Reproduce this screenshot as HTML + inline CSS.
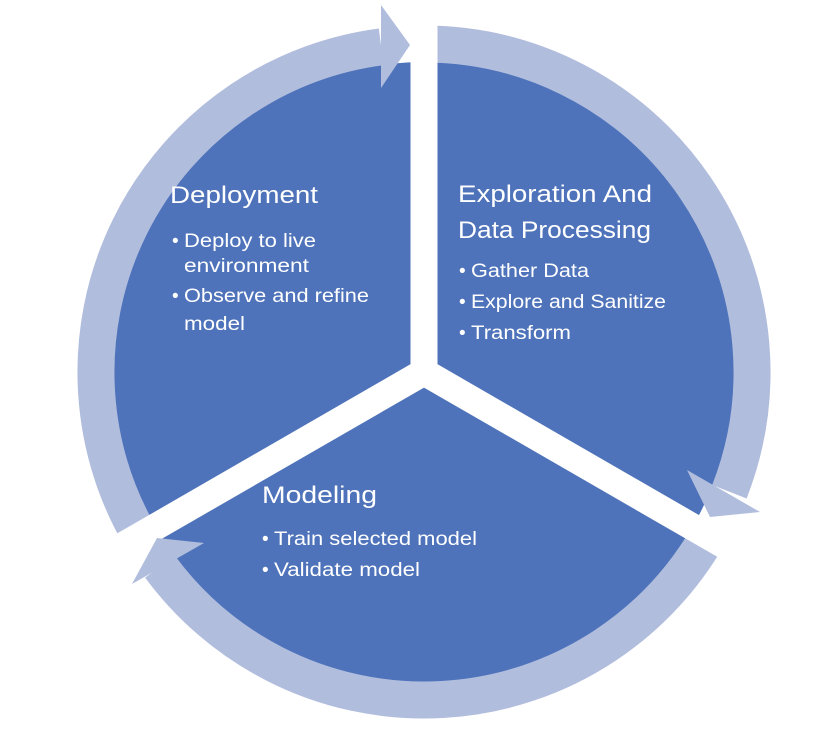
<!DOCTYPE html>
<html><head><meta charset="utf-8"><style>
html,body{margin:0;padding:0;background:#fff;}
svg{display:block;}
text{font-family:"Liberation Sans",sans-serif;fill:#fff;}
.h{font-size:24px;}
.b{font-size:19px;}
</style></head><body>
<svg width="838" height="730" viewBox="0 0 838 730" xmlns="http://www.w3.org/2000/svg">
<circle cx="424" cy="372" r="310" fill="#4e73ba"/>
<g fill="none" stroke="#b1bddd" stroke-width="37">
<path d="M139.9,536 A328,328 0 0 1 381.2,46.8"/>
<path d="M424,44 A328,328 0 0 1 729.4,491.7"/>
<path d="M708.1,536 A328,328 0 0 1 160,566.6"/>
</g>
<g stroke="#fff" stroke-width="27">
<line x1="424" y1="372" x2="424" y2="-20"/>
<line x1="424" y1="372" x2="944" y2="672"/>
<line x1="424" y1="372" x2="-96" y2="672"/>
</g>
<circle cx="424" cy="372" r="8" fill="#fff"/>
<g fill="#b1bddd">
<polygon points="381,5 381,88 410,45"/>
<polygon points="687,470 760,512 710,517"/>
<polygon points="204,543 132,584 157,538"/>
</g>
<text class="h" x="170" y="203" textLength="148" lengthAdjust="spacingAndGlyphs">Deployment</text>
<text class="b" x="172" y="247">•</text>
<text class="b" x="184" y="247" textLength="132" lengthAdjust="spacingAndGlyphs">Deploy to live</text>
<text class="b" x="184" y="272" textLength="125" lengthAdjust="spacingAndGlyphs">environment</text>
<text class="b" x="172" y="302">•</text>
<text class="b" x="184" y="302" textLength="185" lengthAdjust="spacingAndGlyphs">Observe and refine</text>
<text class="b" x="184" y="330" textLength="61" lengthAdjust="spacingAndGlyphs">model</text>

<text class="h" x="458" y="202" textLength="194" lengthAdjust="spacingAndGlyphs">Exploration And</text>
<text class="h" x="458" y="238" textLength="193" lengthAdjust="spacingAndGlyphs">Data Processing</text>
<text class="b" x="459" y="277">•</text>
<text class="b" x="471" y="277" textLength="118" lengthAdjust="spacingAndGlyphs">Gather Data</text>
<text class="b" x="459" y="308">•</text>
<text class="b" x="471" y="308" textLength="195" lengthAdjust="spacingAndGlyphs">Explore and Sanitize</text>
<text class="b" x="459" y="339">•</text>
<text class="b" x="471" y="339" textLength="100" lengthAdjust="spacingAndGlyphs">Transform</text>

<text class="h" x="262" y="503" textLength="115" lengthAdjust="spacingAndGlyphs">Modeling</text>
<text class="b" x="262" y="545">•</text>
<text class="b" x="274" y="545" textLength="203" lengthAdjust="spacingAndGlyphs">Train selected model</text>
<text class="b" x="262" y="576">•</text>
<text class="b" x="274" y="576" textLength="146" lengthAdjust="spacingAndGlyphs">Validate model</text>
</svg>
</body></html>
